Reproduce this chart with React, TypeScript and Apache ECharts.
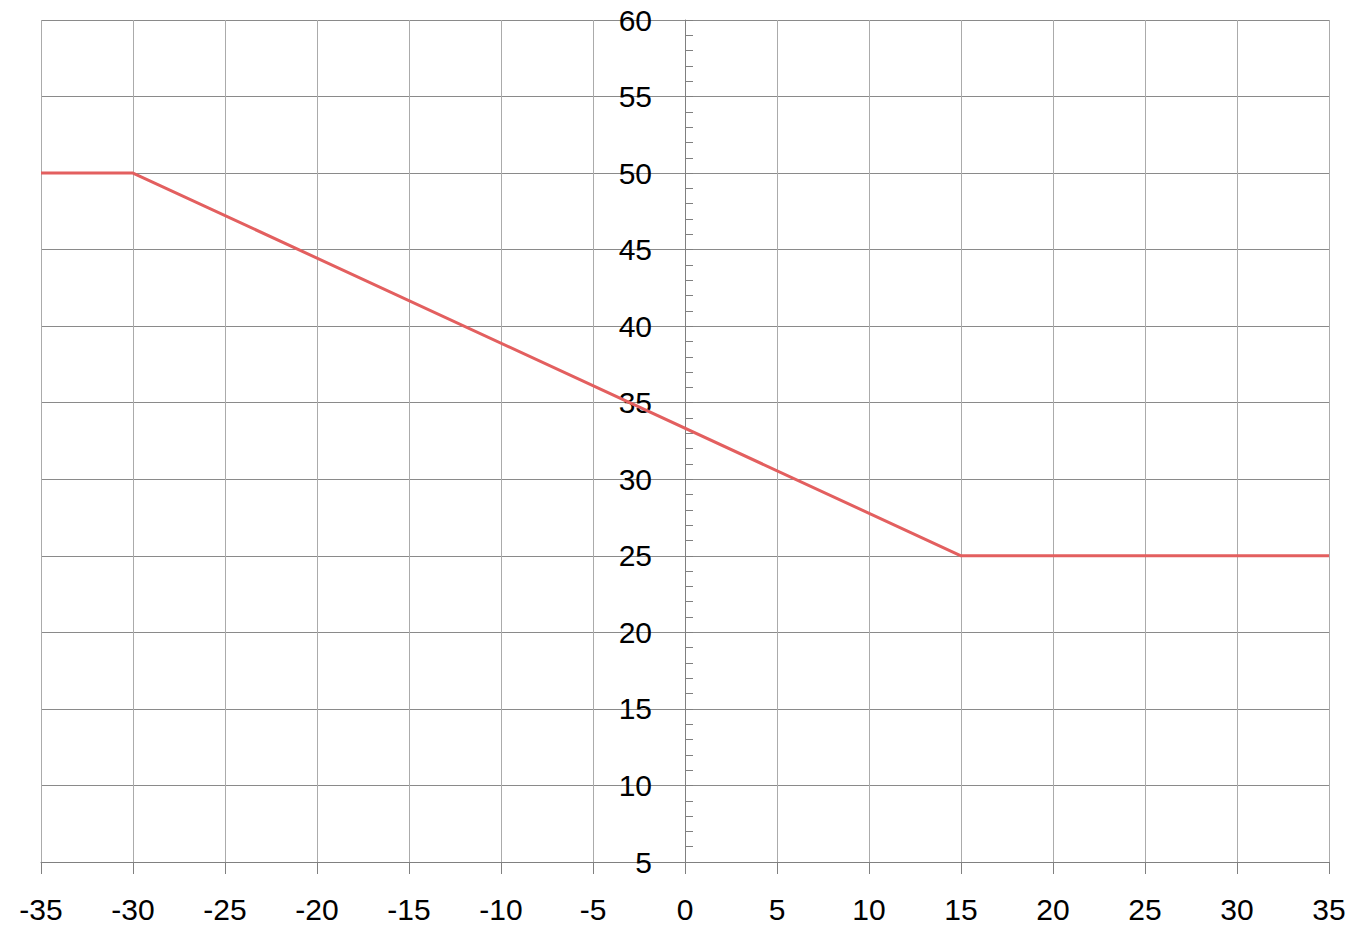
import React, { useEffect, useRef } from "react";
import * as echarts from "echarts";

const xPoints = [-35, -30, 15, 35];
const yPoints = [50, 50, 25, 25];
const xRange = [-35, 35];
const yRange = [5, 60];

export default function App() {
  const ref = useRef<HTMLDivElement>(null);
  useEffect(() => {
    const chart = echarts.init(ref.current!, null, { renderer: "svg" });
    const font = { fontFamily: "Liberation Sans", fontSize: 30, color: "#000" };
    const gridLeft = 41;
    const gridRight = 29;
    const plotWidth = 1358 - gridLeft - gridRight;
    const zeroOffset = (plotWidth * (0 - xRange[0])) / (xRange[1] - xRange[0]);
    chart.setOption({
      animation: false,
      backgroundColor: "#fff",
      grid: {
        left: gridLeft,
        right: gridRight,
        top: 20,
        bottom: 82,
        containLabel: false,
        outerBoundsMode: "none",
      },
      xAxis: {
        type: "value",
        min: xRange[0],
        max: xRange[1],
        interval: 5,
        axisLine: { onZero: false, lineStyle: { color: "#808080", width: 1 } },
        axisTick: { show: true, length: 12, lineStyle: { color: "#808080" } },
        axisLabel: { ...font, margin: 32 },
        splitLine: { show: true, lineStyle: { color: "#ababab", width: 1 } },
      },
      yAxis: {
        type: "value",
        position: "left",
        offset: -zeroOffset,
        min: yRange[0],
        max: yRange[1],
        interval: 5,
        axisLine: { show: true, onZero: false, lineStyle: { color: "#808080", width: 1 } },
        axisTick: { show: true, inside: true, length: 8, lineStyle: { color: "#808080" } },
        minorTick: { show: true, splitNumber: 5, length: 8, lineStyle: { color: "#808080" } },
        axisLabel: { ...font, margin: 33 },
        splitLine: { show: true, lineStyle: { color: "#8a8a8a", width: 1 } },
      },
      series: [
        {
          type: "line",
          data: xPoints.map((x, i) => [x, yPoints[i]]),
          symbol: "none",
          lineStyle: { color: "#e35f5f", width: 3 },
          z: 5,
        },
      ],
    });
    return () => chart.dispose();
  }, []);
  return (
    <div
      ref={ref}
      style={{ position: "fixed", left: 0, top: 0, width: 1358, height: 944 }}
    />
  );
}
